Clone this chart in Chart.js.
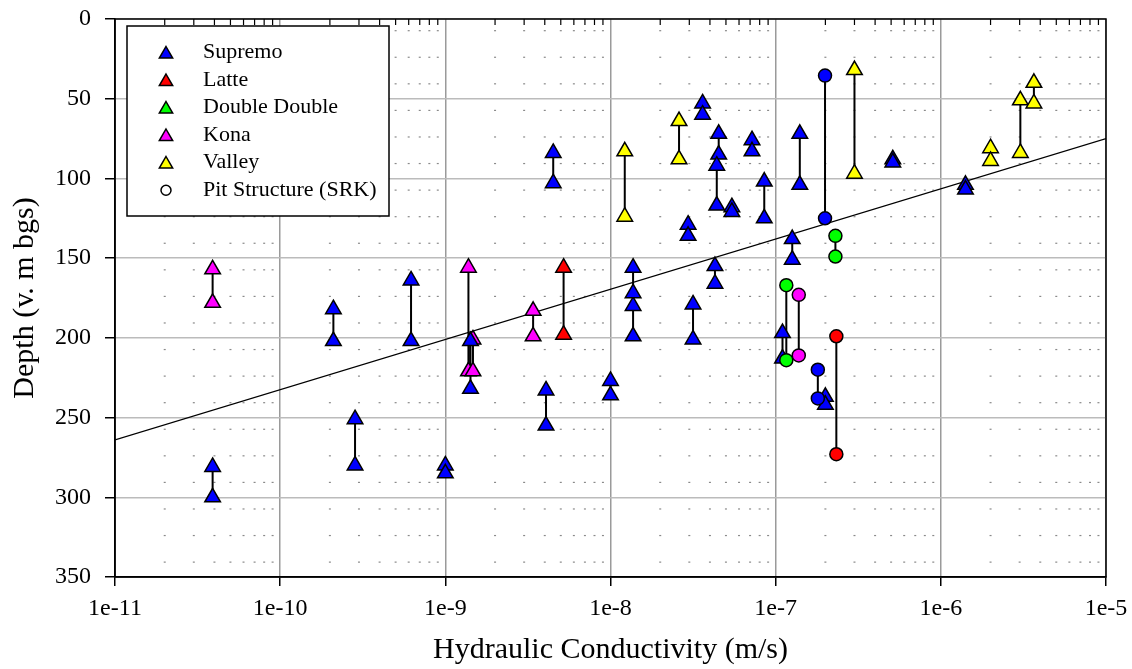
<!DOCTYPE html>
<html>
<head>
<meta charset="utf-8">
<title>Hydraulic conductivity vs depth</title>
<script src="https://cdn.jsdelivr.net/npm/chart.js@4.4.1/dist/chart.umd.min.js"></script>
<style>
  html, body { margin: 0; padding: 0; background: #fff; }
  #wrap { width: 1132px; height: 669px; }
</style>
</head>
<body>
<div id="wrap"><canvas id="kChart" width="1132" height="669"></canvas></div>
<script>
// axis ticks
const xTickValues = [1e-11, 1e-10, 1e-9, 1e-8, 1e-7, 1e-6, 1e-5];
const xTickLabels = ['1e-11', '1e-10', '1e-9', '1e-8', '1e-7', '1e-6', '1e-5'];
const yTickValues = [0, 50, 100, 150, 200, 250, 300, 350];

// packer test intervals: K (m/s), top and bottom of the interval (m bgs)
const supremoK      = [3.9e-11, 2.1e-10, 2.84e-10, 6.2e-10, 1.0e-9, 1.42e-9, 4.07e-9, 4.5e-9, 1.0e-8, 1.37e-8, 1.37e-8, 2.95e-8, 3.16e-8, 3.61e-8, 4.29e-8, 4.52e-8, 4.4e-8, 5.43e-8, 7.19e-8, 8.53e-8, 1.1e-7, 1.26e-7, 1.4e-7, 2.0e-7, 5.12e-7, 1.41e-6];
const supremoTop    = [281, 182, 251, 164, 280, 202, 233, 84, 227, 156, 172, 129, 179, 53, 155, 72, 92, 118, 76, 102, 197, 138, 72, 237, 88, 104];
const supremoBottom = [300, 202, 280, 202, 285, 232, 255, 103, 236, 180, 199, 136, 201, 60, 166, 85, 117, 121, 83, 125, 213, 151, 104, 242, 90, 107];

const latteK      = [5.2e-9];
const latteTop    = [156];
const latteBottom = [198];

const doubleK      = [];
const doubleTop    = [];
const doubleBottom = [];

const konaK      = [3.9e-11, 1.38e-9, 1.47e-9, 3.4e-9];
const konaTop    = [157, 156, 201, 183];
const konaBottom = [178, 221, 221, 199];

const valleyK      = [1.22e-8, 2.6e-8, 3.0e-7, 2.0e-6, 3.03e-6, 3.66e-6];
const valleyTop    = [83, 64, 32, 81, 51, 40];
const valleyBottom = [124, 88, 97, 89, 84, 53];

// pit structure tests (SRK), coloured by the zone they belong to
const pitSupremoK      = [1.99e-7, 1.8e-7];
const pitSupremoTop    = [35.5, 220];
const pitSupremoBottom = [125, 238];

const pitLatteK      = [2.33e-7];
const pitLatteTop    = [199];
const pitLatteBottom = [273];

const pitDoubleK      = [1.16e-7, 2.3e-7];
const pitDoubleTop    = [167, 136];
const pitDoubleBottom = [214, 149];

const pitKonaK      = [1.38e-7];
const pitKonaTop    = [173];
const pitKonaBottom = [211];

// trend line
const trendK     = [1e-11, 1e-5];
const trendDepth = [264, 75];

const legendLabels = ['Supremo', 'Latte', 'Double Double', 'Kona', 'Valley', 'Pit Structure (SRK)'];
const legendFills  = ['#0000ff', '#ff0000', '#00ff00', '#ff00ff', '#ffff00', '#ffffff'];
const legendStyles = ['triangle', 'triangle', 'triangle', 'triangle', 'triangle', 'circle'];

const FONT = '"Liberation Serif", "Times New Roman", serif';

function markers(k, top, bottom) {
    const pts = [];
    k.forEach((v, i) => {
        pts.push({ x: v, y: top[i] });
        pts.push({ x: v, y: bottom[i] });
    });
    return pts;
}

// vertical segments between top and bottom of each interval, broken by gaps
function intervals(groups) {
    const pts = [];
    groups.forEach(([k, top, bottom]) => {
        k.forEach((v, i) => {
            pts.push({ x: v, y: top[i] });
            pts.push({ x: v, y: bottom[i] });
            pts.push({ x: v, y: null });
        });
    });
    return pts;
}

function markerSet(label, pts, color, style, radius) {
    return {
        label: label,
        data: pts,
        pointStyle: style,
        pointRadius: radius,
        pointBackgroundColor: color,
        pointBorderColor: '#000',
        pointBorderWidth: 1.5,
        showLine: false,
        order: style === 'circle' ? 0 : 1
    };
}

function drawMarker(ctx, style, r, x, y) {
    ctx.beginPath();
    if (style === 'circle') {
        ctx.arc(x, y, r, 0, Math.PI * 2);
    } else {
        ctx.moveTo(x, y - r);
        ctx.lineTo(x + r * 0.866, y + r / 2);
        ctx.lineTo(x - r * 0.866, y + r / 2);
        ctx.closePath();
    }
    ctx.fill();
    ctx.stroke();
}

// keep the plot area fixed: no extra room for overhanging tick labels
function noLabelPadding(s) {
    s.paddingTop = 0;
    s.paddingBottom = 0;
    s.paddingLeft = 0;
    s.paddingRight = 0;
}

// minor grid dots, top border ticks, frame and legend
const frameAndLegend = {
    id: 'frameAndLegend',
    beforeDatasetsDraw(chart) {
        const { ctx, chartArea: a, scales: { x, y } } = chart;
        ctx.save();
        for (let d = -11; d < -5; d++) {
            for (let m = 2; m <= 9; m++) {
                const px = x.getPixelForValue(m * Math.pow(10, d));
                ctx.fillStyle = '#8a8a8a';
                for (let dep = 22 / 3; dep < 350; dep += 50 / 3) {
                    ctx.fillRect(px - 1, y.getPixelForValue(dep) - 0.6, 2, 1.2);
                }
                ctx.fillStyle = '#000';
                ctx.fillRect(px - 0.6, a.top, 1.2, 6);
            }
        }
        ctx.restore();
    },
    afterDatasetsDraw(chart) {
        const { ctx, chartArea: a } = chart;
        ctx.save();
        ctx.strokeStyle = '#000';
        ctx.lineWidth = 1.5;
        ctx.strokeRect(a.left, a.top, a.right - a.left, a.bottom - a.top);

        const lx = a.left + 12, ly = a.top + 7, lw = 262, lh = 190;
        ctx.fillStyle = '#fff';
        ctx.fillRect(lx, ly, lw, lh);
        ctx.strokeRect(lx, ly, lw, lh);
        ctx.font = '22px ' + FONT;
        ctx.textBaseline = 'middle';
        ctx.textAlign = 'left';
        legendLabels.forEach((label, i) => {
            const cy = ly + 26.7 + i * 27.5;
            ctx.fillStyle = legendFills[i];
            ctx.strokeStyle = '#000';
            ctx.lineWidth = 1.5;
            if (legendStyles[i] === 'circle') {
                drawMarker(ctx, 'circle', 5, lx + 39, cy);
            } else {
                drawMarker(ctx, 'triangle', 7.7, lx + 39, cy + 1.5);
            }
            ctx.fillStyle = '#000';
            ctx.fillText(label, lx + 76, cy);
        });
        ctx.restore();
    }
};

const datasets = [
    {
        label: 'trend',
        data: trendK.map((k, i) => ({ x: k, y: trendDepth[i] })),
        showLine: true,
        borderColor: '#000',
        borderWidth: 1.2,
        pointRadius: 0,
        order: 5
    },
    {
        label: 'intervals',
        data: intervals([
            [supremoK, supremoTop, supremoBottom],
            [latteK, latteTop, latteBottom],
            [doubleK, doubleTop, doubleBottom],
            [konaK, konaTop, konaBottom],
            [valleyK, valleyTop, valleyBottom],
            [pitSupremoK, pitSupremoTop, pitSupremoBottom],
            [pitLatteK, pitLatteTop, pitLatteBottom],
            [pitDoubleK, pitDoubleTop, pitDoubleBottom],
            [pitKonaK, pitKonaTop, pitKonaBottom]
        ]),
        showLine: true,
        spanGaps: false,
        borderColor: '#000',
        borderWidth: 2,
        pointRadius: 0,
        order: 4
    },
    markerSet('Supremo', markers(supremoK, supremoTop, supremoBottom), '#0000ff', 'triangle', 9),
    markerSet('Latte', markers(latteK, latteTop, latteBottom), '#ff0000', 'triangle', 9),
    markerSet('Double Double', markers(doubleK, doubleTop, doubleBottom), '#00ff00', 'triangle', 9),
    markerSet('Kona', markers(konaK, konaTop, konaBottom), '#ff00ff', 'triangle', 9),
    markerSet('Valley', markers(valleyK, valleyTop, valleyBottom), '#ffff00', 'triangle', 9),
    markerSet('Pit Supremo', markers(pitSupremoK, pitSupremoTop, pitSupremoBottom), '#0000ff', 'circle', 6.5),
    markerSet('Pit Latte', markers(pitLatteK, pitLatteTop, pitLatteBottom), '#ff0000', 'circle', 6.5),
    markerSet('Pit Double Double', markers(pitDoubleK, pitDoubleTop, pitDoubleBottom), '#00ff00', 'circle', 6.5),
    markerSet('Pit Kona', markers(pitKonaK, pitKonaTop, pitKonaBottom), '#ff00ff', 'circle', 6.5)
];

new Chart(document.getElementById('kChart'), {
    type: 'scatter',
    data: { datasets: datasets },
    options: {
        responsive: false,
        animation: false,
        devicePixelRatio: 1,
        events: [],
        layout: { padding: { left: 0, top: 19, right: 26, bottom: 0 } },
        plugins: {
            legend: { display: false },
            tooltip: { enabled: false }
        },
        scales: {
            x: {
                type: 'logarithmic',
                min: 1e-11,
                max: 1e-5,
                afterBuildTicks: s => { s.ticks = xTickValues.map(v => ({ value: v })); },
                afterFit: s => { s.height = 92; noLabelPadding(s); },
                ticks: {
                    callback: (v, i) => xTickLabels[i],
                    autoSkip: false,
                    maxRotation: 0,
                    minRotation: 0,
                    padding: 8,
                    color: '#000',
                    font: { family: FONT, size: 24 }
                },
                grid: { color: '#9a9a9a', lineWidth: 1.5, tickLength: 9, tickColor: '#000', tickWidth: 1.5 },
                border: { color: '#000', width: 1.5 },
                title: {
                    display: true,
                    text: 'Hydraulic Conductivity (m/s)',
                    color: '#000',
                    font: { family: FONT, size: 30 },
                    padding: { top: 0, bottom: 1 }
                }
            },
            y: {
                type: 'linear',
                reverse: true,
                min: 0,
                max: 350,
                afterBuildTicks: s => { s.ticks = yTickValues.map(v => ({ value: v })); },
                afterFit: s => { s.width = 115; noLabelPadding(s); },
                ticks: {
                    padding: 14,
                    color: '#000',
                    font: { family: FONT, size: 24 }
                },
                grid: { color: '#bbbbbb', lineWidth: 1.5, tickLength: 10, tickColor: '#000', tickWidth: 1.5 },
                border: { color: '#000', width: 1.5 },
                title: {
                    display: true,
                    text: 'Depth (v. m bgs)',
                    color: '#000',
                    font: { family: FONT, size: 30 },
                    padding: { top: 7, bottom: 0 }
                }
            }
        }
    },
    plugins: [frameAndLegend]
});
</script>
</body>
</html>
